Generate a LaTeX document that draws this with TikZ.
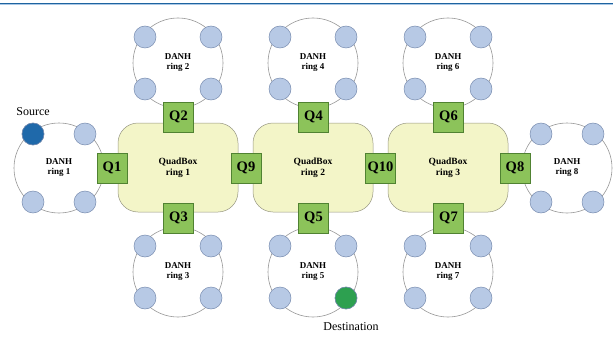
\documentclass[tikz,border=0pt]{standalone}
\usepackage{fontspec}
\setmainfont{Liberation Serif}
\definecolor{nodefill}{RGB}{183,201,229}
\definecolor{nodeline}{RGB}{120,140,175}
\definecolor{srcfill}{RGB}{31,105,170}
\definecolor{dstfill}{RGB}{45,160,80}
\definecolor{qfill}{RGB}{140,195,90}
\definecolor{qline}{RGB}{80,130,50}
\definecolor{boxfill}{RGB}{243,245,200}
\definecolor{boxline}{RGB}{150,150,130}
\definecolor{ringline}{RGB}{150,150,150}
\definecolor{topline}{RGB}{30,100,160}
\definecolor{toplight}{RGB}{170,200,230}
\tikzset{
  ringc/.style={circle, draw=ringline, line width=0.6pt, minimum size=90pt, inner sep=0pt, align=center, font=\bfseries\fontsize{9}{10}\selectfont},
  pe/.style={circle, draw=nodeline, line width=0.5pt, fill=nodefill, minimum size=22pt, inner sep=0pt},
  qsq/.style={draw=qline, line width=0.5pt, fill=qfill, minimum size=30pt, inner sep=0pt, font=\bfseries\fontsize{14.5}{14}\selectfont},
  quad/.style={rounded corners=20pt, draw=boxline, line width=0.5pt, fill=boxfill, minimum width=120pt, minimum height=89pt, align=center, font=\bfseries\fontsize{9.5}{11}\selectfont},
  lbl/.style={font=\fontsize{12}{12}\selectfont, inner sep=0pt}
}
\begin{document}
\begin{tikzpicture}[x=1pt,y=-1pt]
\useasboundingbox (0,0) rectangle (613,337);
\draw[topline, line width=1.4pt] (0,3.4) -- (613,3.4);
\draw[toplight, line width=0.8pt] (0,4.9) -- (613,4.9);
% rings with horizontal connection
\foreach \n/\cx/\cy in {1/59/168, 8/567/168}{
  \node[ringc] (r\n) at (\cx,\cy) {DANH\\ring \n};
  \node[pe] (r\n a) at (\cx-26,\cy-34) {};
  \node[pe] (r\n b) at (\cx+26,\cy-34) {};
  \node[pe] (r\n c) at (\cx-26,\cy+34) {};
  \node[pe] (r\n d) at (\cx+26,\cy+34) {};
}
% rings with vertical connection
\foreach \n/\cx/\cy in {2/178/63, 3/178/272, 4/313/63, 5/313/272, 6/448/63, 7/448/272}{
  \node[ringc] (r\n) at (\cx,\cy) {DANH\\ring \n};
  \node[pe] (r\n a) at (\cx-33,\cy-26) {};
  \node[pe] (r\n b) at (\cx+33,\cy-26) {};
  \node[pe] (r\n c) at (\cx-33,\cy+26) {};
  \node[pe] (r\n d) at (\cx+33,\cy+26) {};
}
\node[pe, fill=srcfill] (src) at (r1a) {};
\node[pe, fill=dstfill] (dst) at (r5d) {};
\node[lbl] (srclbl) at (33,112) {Source};
\node[lbl] (dstlbl) at (351,327) {Destination};
% QuadBoxes
\node[quad] (qb1) at (178,167.5) {QuadBox\\ring 1};
\node[quad] (qb2) at (313,167.5) {QuadBox\\ring 2};
\node[quad] (qb3) at (448,167.5) {QuadBox\\ring 3};
% Q squares
\node[qsq] (q1) at (112,168) {Q1};
\node[qsq] (q2) at (178.5,117) {Q2};
\node[qsq] (q3) at (178.5,218) {Q3};
\node[qsq] (q4) at (313.5,117) {Q4};
\node[qsq] (q5) at (313.5,218) {Q5};
\node[qsq] (q6) at (448.5,117) {Q6};
\node[qsq] (q7) at (448.5,218) {Q7};
\node[qsq] (q8) at (515,168) {Q8};
\node[qsq] (q9) at (246,168) {Q9};
\node[qsq] (q10) at (380.5,168) {Q10};
\end{tikzpicture}
\end{document}
